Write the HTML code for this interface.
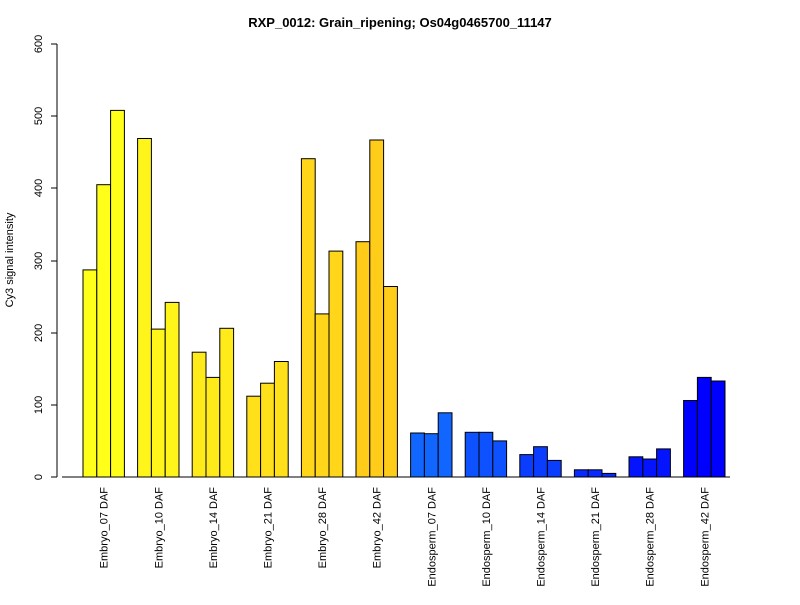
<!DOCTYPE html>
<html><head><meta charset="utf-8"><style>body{margin:0;background:#fff}</style></head><body>
<svg width="800" height="600" xmlns="http://www.w3.org/2000/svg" font-family="Liberation Sans, Arial, sans-serif">
<rect width="800" height="600" fill="#fff"/>
<text x="400" y="27" text-anchor="middle" font-size="13" font-weight="bold">RXP_0012: Grain_ripening; Os04g0465700_11147</text>
<g stroke="#000" fill="none">
<line x1="57" y1="44" x2="57" y2="477"/>
<line x1="51" y1="477" x2="57" y2="477"/><line x1="51" y1="405" x2="57" y2="405"/><line x1="51" y1="333" x2="57" y2="333"/><line x1="51" y1="261" x2="57" y2="261"/><line x1="51" y1="188" x2="57" y2="188"/><line x1="51" y1="116" x2="57" y2="116"/><line x1="51" y1="44" x2="57" y2="44"/>
<line x1="62" y1="477" x2="730" y2="477"/>
</g>
<g font-size="11" text-anchor="middle">
<text transform="translate(42,477) rotate(-90)">0</text>
<text transform="translate(42,405) rotate(-90)">100</text>
<text transform="translate(42,333) rotate(-90)">200</text>
<text transform="translate(42,261) rotate(-90)">300</text>
<text transform="translate(42,188) rotate(-90)">400</text>
<text transform="translate(42,116) rotate(-90)">500</text>
<text transform="translate(42,44) rotate(-90)">600</text>
<text transform="translate(13,260) rotate(-90)">Cy3 signal intensity</text>
</g>
<g stroke="#000" stroke-width="1">
<g fill="#FFFF1A"><rect x="83" y="269.9" width="13.8" height="207.1"/><rect x="96.8" y="184.7" width="13.8" height="292.3"/><rect x="110.6" y="110.4" width="13.8" height="366.6"/></g>
<g fill="#FFF51A"><rect x="137.6" y="138.5" width="13.8" height="338.5"/><rect x="151.4" y="329.1" width="13.8" height="147.9"/><rect x="165.2" y="302.4" width="13.8" height="174.6"/></g>
<g fill="#FFEB1A"><rect x="192.2" y="352.2" width="13.8" height="124.8"/><rect x="206" y="377.4" width="13.8" height="99.6"/><rect x="219.8" y="328.3" width="13.8" height="148.7"/></g>
<g fill="#FFE01A"><rect x="246.8" y="396.2" width="13.8" height="80.8"/><rect x="260.6" y="383.2" width="13.8" height="93.8"/><rect x="274.4" y="361.5" width="13.8" height="115.5"/></g>
<g fill="#FFD61A"><rect x="301.4" y="158.7" width="13.8" height="318.3"/><rect x="315.2" y="313.9" width="13.8" height="163.1"/><rect x="329" y="251.1" width="13.8" height="225.9"/></g>
<g fill="#FFCC1A"><rect x="356" y="241.7" width="13.8" height="235.3"/><rect x="369.8" y="140" width="13.8" height="337"/><rect x="383.6" y="286.5" width="13.8" height="190.5"/></g>
<g fill="#1166FF"><rect x="410.6" y="433" width="13.8" height="44"/><rect x="424.4" y="433.7" width="13.8" height="43.3"/><rect x="438.2" y="412.8" width="13.8" height="64.2"/></g>
<g fill="#0E52FF"><rect x="465.2" y="432.3" width="13.8" height="44.7"/><rect x="479" y="432.3" width="13.8" height="44.7"/><rect x="492.8" y="440.9" width="13.8" height="36.1"/></g>
<g fill="#0B3DFF"><rect x="519.8" y="454.6" width="13.8" height="22.4"/><rect x="533.6" y="446.7" width="13.8" height="30.3"/><rect x="547.4" y="460.4" width="13.8" height="16.6"/></g>
<g fill="#0829FF"><rect x="574.4" y="469.8" width="13.8" height="7.2"/><rect x="588.2" y="469.8" width="13.8" height="7.2"/><rect x="602" y="473.4" width="13.8" height="3.6"/></g>
<g fill="#0414FF"><rect x="629" y="456.8" width="13.8" height="20.2"/><rect x="642.8" y="459" width="13.8" height="18"/><rect x="656.6" y="448.9" width="13.8" height="28.1"/></g>
<g fill="#0000FF"><rect x="683.6" y="400.5" width="13.8" height="76.5"/><rect x="697.4" y="377.4" width="13.8" height="99.6"/><rect x="711.2" y="381" width="13.8" height="96"/></g>
</g>
<g font-size="11" text-anchor="end">
<text transform="translate(107.7,487) rotate(-90)">Embryo_07 DAF</text>
<text transform="translate(162.3,487) rotate(-90)">Embryo_10 DAF</text>
<text transform="translate(216.9,487) rotate(-90)">Embryo_14 DAF</text>
<text transform="translate(271.5,487) rotate(-90)">Embryo_21 DAF</text>
<text transform="translate(326.1,487) rotate(-90)">Embryo_28 DAF</text>
<text transform="translate(380.7,487) rotate(-90)">Embryo_42 DAF</text>
<text transform="translate(435.3,487) rotate(-90)">Endosperm_07 DAF</text>
<text transform="translate(489.9,487) rotate(-90)">Endosperm_10 DAF</text>
<text transform="translate(544.5,487) rotate(-90)">Endosperm_14 DAF</text>
<text transform="translate(599.1,487) rotate(-90)">Endosperm_21 DAF</text>
<text transform="translate(653.7,487) rotate(-90)">Endosperm_28 DAF</text>
<text transform="translate(708.3,487) rotate(-90)">Endosperm_42 DAF</text>
</g>
</svg>
</body></html>
